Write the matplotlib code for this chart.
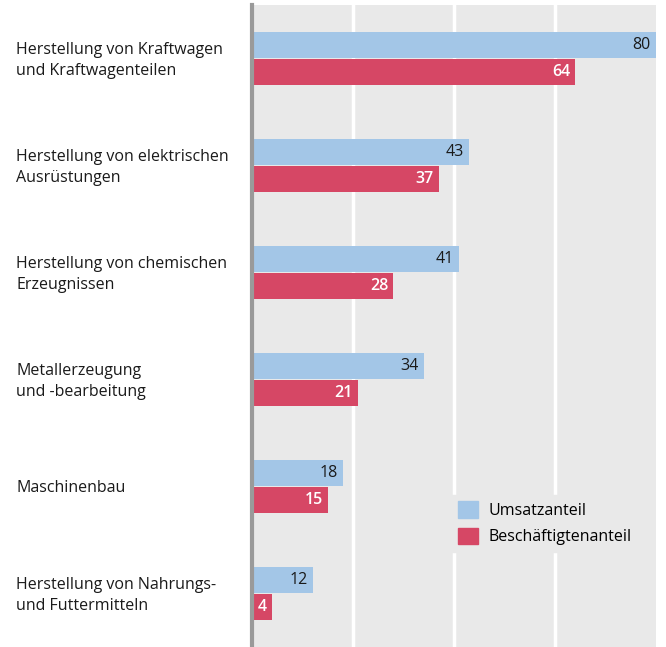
import matplotlib
matplotlib.use('Agg')
from matplotlib import pyplot as plt
from matplotlib.patches import Patch

categories = ['Herstellung von Kraftwagen\nund Kraftwagenteilen',
              'Herstellung von elektrischen\nAusrüstungen',
              'Herstellung von chemischen\nErzeugnissen',
              'Metallerzeugung\nund -bearbeitung',
              'Maschinenbau',
              'Herstellung von Nahrungs-\nund Futtermitteln']
umsatz = [80, 43, 41, 34, 18, 12]
beschaeftigte = [64, 37, 28, 21, 15, 4]

blue = '#a3c6e7'
red = '#d64765'
bg = '#e9e9e9'

plt.rcParams['font.family'] = ['Open Sans', 'DejaVu Sans']

fig = plt.figure(figsize=(6.66, 6.47), dpi=100)
ax = fig.add_axes([252/666, 0, 404/666, 642/647])
ax.set_facecolor(bg)

y = list(range(len(categories)))
h = 0.235
off = 0.126
ax.barh([i - off for i in y], umsatz, height=h, color=blue, zorder=2)
ax.barh([i + off for i in y], beschaeftigte, height=h, color=red, zorder=2)

for i in y:
    ax.text(umsatz[i] - 1.0, i - off, str(umsatz[i]), ha='right', va='center',
            fontsize=11.5, color='#1a1a1a', zorder=3)
    ax.text(beschaeftigte[i] - 1.0, i + off, str(beschaeftigte[i]), ha='right', va='center',
            fontsize=11.5, color='white', fontweight='semibold', zorder=3)
    fig.text(16/666, 1 - (7 + 53.5 + 107*i)/647, categories[i], ha='left', va='center',
             fontsize=11.5, color='#1a1a1a', linespacing=1.45)

ax.set_xlim(0, 80)
ax.set_ylim(len(categories) - 0.5, -0.5)
ax.set_xticks([20, 40, 60])
ax.set_yticks([])
ax.tick_params(axis='x', length=0, labelbottom=False)
ax.grid(axis='x', color='white', linewidth=2.5, zorder=1)
for s in ['top', 'right', 'bottom']:
    ax.spines[s].set_visible(False)
ax.spines['left'].set_color('#9a9a9a')
ax.spines['left'].set_linewidth(3)
ax.spines['left'].set_zorder(4)

handles = [Patch(color=blue, label='Umsatzanteil'),
           Patch(color=red, label='Beschäftigtenanteil')]
leg = ax.legend(handles=handles, loc='upper left', bbox_to_anchor=((452-252)/404, (647-495)/642),
                frameon=True, facecolor=bg, edgecolor=bg, framealpha=1, fontsize=11.5,
                handlelength=1.2, handleheight=1.2, handletextpad=0.7, labelspacing=0.55,
                borderpad=0.4, borderaxespad=0, fancybox=False)
leg.set_zorder(5)

fig.savefig('out.png', dpi=100)
